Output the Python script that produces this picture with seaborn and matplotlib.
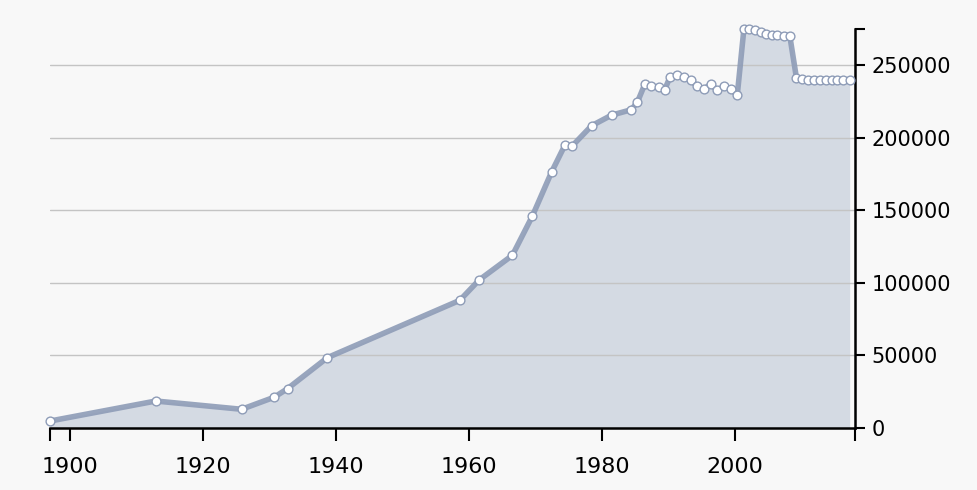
import numpy as np
import matplotlib.pyplot as plt
import pandas as pd
import seaborn as sns
from matplotlib.ticker import FixedLocator

# values
years = [1897.0, 1912.9, 1925.8, 1930.7, 1932.7, 1938.7, 1958.6, 1961.5, 1966.5, 1969.5,
         1972.4, 1974.4, 1975.5, 1978.4, 1981.4, 1984.4, 1985.3,
         1986.4, 1987.4, 1988.6, 1989.4, 1990.2, 1991.3, 1992.3, 1993.3, 1994.3, 1995.3,
         1996.3, 1997.3, 1998.3, 1999.3, 2000.3,
         2001.3, 2002.1, 2003.0, 2003.8, 2004.6, 2005.5, 2006.3, 2007.3, 2008.2,
         2009.2, 2010.1, 2011.0, 2011.8, 2012.7, 2013.6, 2014.5, 2015.3, 2016.2, 2017.2]
population = [4800, 18600, 12900, 21200, 27100, 48500, 88000, 102000, 119000, 146000,
              176500, 195000, 194400, 208300, 215600, 219400, 224700,
              236900, 235500, 235000, 233200, 242000, 243000, 242000, 239700, 235500, 233700,
              236900, 232800, 235500, 233900, 229300,
              275000, 274800, 274000, 272900, 271800, 271200, 270700, 270200, 270200,
              241200, 240800, 240100, 240100, 240100, 240100, 240100, 240100, 240100, 240100]
y_ticks = [0, 50000, 100000, 150000, 200000, 250000]
x_ticks = [1900, 1920, 1940, 1960, 1980, 2000]

df = pd.DataFrame({"year": years, "population": population})

sns.set_style("white")
plt.rcParams['font.family'] = ['DejaVu Sans']

fig = plt.figure(figsize=(9.78, 4.9), dpi=100, facecolor="#f8f8f8")
ax = fig.add_axes([50/978, 62/490, 805/978, 399/490])
ax.set_facecolor("#f8f8f8")

ax.fill_between(df["year"], 0, df["population"], color="#d4dae3", zorder=1, lw=0)
for t in y_ticks[1:]:
    ax.axhline(t, color="#c4c4c4", lw=1, zorder=2)

sns.lineplot(data=df, x="year", y="population", ax=ax, color="#8e9cb7", lw=4,
             zorder=3, alpha=0.9, clip_on=False)
sns.scatterplot(data=df, x="year", y="population", ax=ax, color="white",
                edgecolor="#8e9cb7", linewidth=1.0, s=40, zorder=4, clip_on=False)

ax.set_xlim(1897, 2018)
ax.set_ylim(0, 275000)
ax.set_xlabel("")
ax.set_ylabel("")

ax.set_xticks(x_ticks)
ax.set_yticks(y_ticks)
ax.set_yticklabels([str(v) for v in y_ticks])
ax.xaxis.set_minor_locator(FixedLocator([1897, 2018]))
ax.yaxis.set_minor_locator(FixedLocator([275000]))

ax.yaxis.tick_right()
ax.tick_params(axis="x", which="both", bottom=True, top=False)
ax.tick_params(axis="y", which="both", right=True, left=False)
ax.tick_params(axis="both", which="both", direction="out", colors="black",
               width=1.5, labelsize=15)
ax.tick_params(axis="x", which="both", length=9, pad=12, labelsize=16)
ax.tick_params(axis="y", which="both", length=7, pad=5)

for side in ["top", "left"]:
    ax.spines[side].set_visible(False)
for side in ["bottom", "right"]:
    ax.spines[side].set_linewidth(1.8)
    ax.spines[side].set_color("black")

fig.savefig("out.png", dpi=100, facecolor=fig.get_facecolor())
